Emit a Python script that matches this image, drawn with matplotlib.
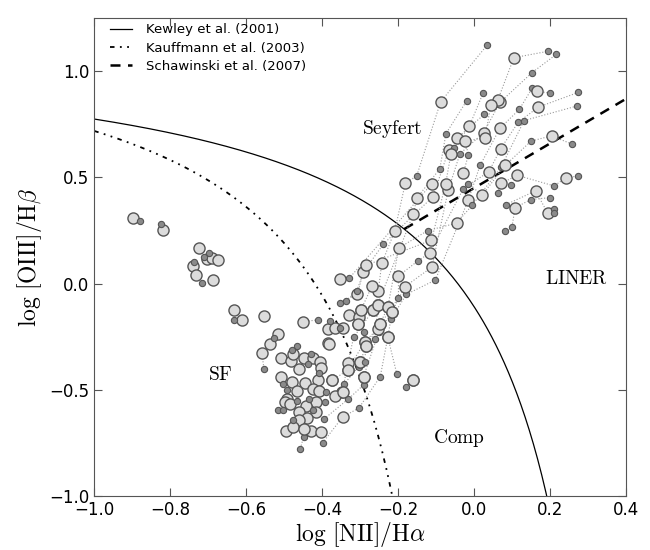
import numpy as np
import matplotlib
matplotlib.use("Agg")
import matplotlib.pyplot as plt

plt.rcParams['mathtext.fontset'] = 'cm'
plt.rcParams['xtick.direction'] = 'in'
plt.rcParams['ytick.direction'] = 'in'
plt.rcParams['xtick.top'] = True
plt.rcParams['ytick.right'] = True

# galaxy tracks: log NII/Ha, log OIII/Hb, and marker kind per point (B = big, s = small)
track_x = [
    [-0.399, -0.346, -0.303, -0.247, -0.227, -0.219, -0.178, -0.102, -0.015, 0.016, 0.068, 0.119, 0.153, 0.165, 0.200],
    [-0.395, -0.331, -0.291, -0.291, -0.251, -0.217, -0.182, -0.111, -0.068, -0.037, 0.025, 0.068, 0.153, 0.217],
    [-0.343, -0.303, -0.285, -0.247, -0.199, -0.199, -0.148, -0.116, -0.028, 0.039, 0.070, 0.116, 0.169, 0.275],
    [-0.374, -0.333, -0.288, -0.254, -0.227, -0.198, -0.122, -0.046, -0.005, 0.071, 0.132, 0.272],
    [-0.347, -0.332, -0.317, -0.265, -0.252, -0.243, -0.209, -0.181, -0.151, -0.088, 0.034],
    [-0.300, -0.260, -0.254, -0.160, -0.151, -0.090, -0.074, -0.019],
    [-0.353, -0.307, -0.292, -0.239, -0.108, -0.067, -0.052, -0.012, 0.024],
    [-0.337, -0.309, -0.285, -0.112, -0.075, -0.061, -0.046, 0.027, 0.063, 0.105, 0.195],
    [-0.203, -0.227],
    [-0.178, -0.162],
    [-0.015, 0.022, 0.082, 0.150, 0.204, 0.258],
    [0.062, 0.072, 0.114, 0.211, 0.241, 0.275],
    [0.081, 0.100, 0.108, 0.149, 0.200],
    [0.084, 0.162, 0.194, 0.210, 0.211],
    [-0.028, -0.015, -0.023, 0.029, 0.044],
    [-0.306, -0.298, -0.268],
    [-0.354, -0.328, -0.111],
    [-0.451, -0.412],
    [-0.457, -0.449, -0.430],
    [-0.559, -0.553],
    [-0.897, -0.879],
    [-0.818, -0.824],
]
track_y = [
    [-0.750, -0.628, -0.585, -0.438, -0.252, -0.167, -0.050, 0.017, 0.394, 0.557, 0.731, 0.820, 0.920, 0.905, 0.898],
    [-0.637, -0.543, -0.477, -0.437, -0.229, -0.135, -0.014, 0.078, 0.440, 0.612, 0.710, 0.853, 0.994, 1.080],
    [-0.474, -0.390, -0.292, -0.192, -0.066, 0.036, 0.107, 0.146, 0.448, 0.527, 0.635, 0.759, 0.831, 0.901],
    [-0.455, -0.408, -0.274, -0.213, -0.111, 0.168, 0.250, 0.285, 0.369, 0.548, 0.768, 0.837],
    [-0.512, -0.372, -0.252, -0.124, -0.033, 0.095, 0.247, 0.473, 0.507, 0.856, 1.122],
    [-0.371, -0.261, -0.099, 0.327, 0.402, 0.541, 0.706, 0.862],
    [-0.089, -0.050, 0.053, 0.186, 0.410, 0.628, 0.640, 0.743, 0.898],
    [-0.080, -0.036, 0.086, 0.205, 0.468, 0.609, 0.684, 0.797, 0.867, 1.064, 1.094],
    [-0.427, -0.252],
    [-0.487, -0.455],
    [0.468, 0.418, 0.557, 0.671, 0.696, 0.657],
    [0.427, 0.473, 0.510, 0.460, 0.498, 0.507],
    [0.246, 0.268, 0.357, 0.396, 0.405],
    [0.372, 0.437, 0.332, 0.351, 0.333],
    [0.521, 0.606, 0.671, 0.687, 0.840],
    [-0.189, -0.124, -0.009],
    [0.020, 0.027, 0.471],
    [-0.180, -0.170],
    [-0.776, -0.721, -0.695],
    [-0.324, -0.401],
    [0.310, 0.296],
    [0.254, 0.282],
]
track_kind = [
    "sBssBsssBsBssBs",
    "sssBsBBBBsBBss",
    "ssBBsBsBsBBsBs",
    "BBBBBBsBssss",
    "BBsBBBBBsBs",
    "BsBBBsss",
    "sBBsBBsBs",
    "ssBBBBBsBBs",
    "sB",
    "sB",
    "sBBsBs",
    "sBBsBs",
    "ssBss",
    "sBBss",
    "BsBBB",
    "BBB",
    "BsB",
    "Bs",
    "ssB",
    "Bs",
    "Bs",
    "Bs",
]

# points without a connecting track
lone_big_x = [-0.724, -0.702, -0.691, -0.675, -0.739, -0.731, -0.688, -0.632, -0.612, -0.554,
              -0.516, -0.538, -0.508, -0.482, -0.476, -0.447, -0.425, -0.405, -0.461, -0.403,
              -0.508, -0.480, -0.446, -0.411, -0.425, -0.409, -0.465, -0.366, -0.492, -0.416,
              -0.443, -0.497, -0.484, -0.462, -0.416, -0.440, -0.462, -0.495, -0.476, -0.449,
              -0.403, -0.384, -0.330, -0.303, -0.384, -0.367, -0.344, -0.382, -0.298, -0.265,
              -0.254, -0.227, -0.217, -0.247, -0.288, -0.285, -0.332, -0.300, -0.291, -0.162,
              -0.374, -0.346, -0.306]
lone_big_y = [0.168, 0.116, 0.119, 0.113, 0.085, 0.039, 0.017, -0.125, -0.172, -0.152,
              -0.239, -0.285, -0.351, -0.366, -0.330, -0.351, -0.351, -0.369, -0.401, -0.398,
              -0.437, -0.463, -0.468, -0.452, -0.498, -0.506, -0.506, -0.531, -0.543, -0.559,
              -0.577, -0.557, -0.565, -0.606, -0.602, -0.631, -0.640, -0.693, -0.677, -0.684,
              -0.696, -0.280, -0.149, -0.155, -0.215, -0.211, -0.208, -0.283, -0.124, -0.124,
              -0.099, -0.111, -0.135, -0.192, -0.274, -0.292, -0.408, -0.371, -0.437, -0.455,
              -0.455, -0.512, -0.189]
lone_small_x = [-0.697, -0.710, -0.738, -0.715, -0.633, -0.528, -0.465, -0.480, -0.430, -0.437,
                -0.409, -0.503, -0.492, -0.389, -0.467, -0.434, -0.392, -0.516, -0.502, -0.425,
                -0.476, -0.289, -0.353, -0.379, -0.287, 0.097]
lone_small_y = [0.144, 0.124, 0.100, 0.005, -0.169, -0.255, -0.293, -0.311, -0.330, -0.380,
                -0.421, -0.474, -0.502, -0.510, -0.553, -0.543, -0.559, -0.593, -0.593, -0.596,
                -0.643, -0.227, -0.208, -0.177, -0.368, 0.466]

big_style = dict(marker='o', markersize=8, markerfacecolor='#dcdcdc',
                 markeredgecolor='#555555', markeredgewidth=1.0, linestyle='none')
small_style = dict(marker='o', markersize=4.5, markerfacecolor='#8a8a8a',
                   markeredgecolor='#555555', markeredgewidth=0.8, linestyle='none')

fig = plt.figure(figsize=(6.5, 5.5), dpi=100)
ax = fig.add_axes([0.145, 0.098, 0.818, 0.869])

# demarcation lines
xk = np.linspace(-1.0, 0.46, 400)
yk = 0.61 / (xk - 0.47) + 1.19
ax.plot(xk, yk, color='k', lw=0.9, label='Kewley et al. (2001)')
xf = np.linspace(-1.0, 0.04, 400)
yf = 0.61 / (xf - 0.05) + 1.3
ax.plot(xf, yf, color='k', lw=1.3, dashes=(2.5, 3, 1, 3, 1, 3), label='Kauffmann et al. (2003)')
xs = np.linspace(-0.6, 0.4, 2000)
ks = 0.61 / (xs - 0.47) + 1.19
x0 = xs[np.argmin(np.abs(1.05 * xs + 0.45 - ks))]
xsl = np.array([x0, 0.4])
ax.plot(xsl, 1.05 * xsl + 0.45, color='k', lw=1.8, dashes=(4, 3), label='Schawinski et al. (2007)')

# connecting tracks
for tx, ty in zip(track_x, track_y):
    if len(tx) > 1:
        ax.plot(tx, ty, color='#9a9a9a', lw=0.8, linestyle=':', zorder=2)

# markers
for tx, ty, kind in zip(track_x, track_y, track_kind):
    for x, y, k in zip(tx, ty, kind):
        if k == 'B':
            ax.plot(x, y, zorder=3, **big_style)
        else:
            ax.plot(x, y, zorder=3, **small_style)
ax.plot(lone_big_x, lone_big_y, zorder=3, **big_style)
ax.plot(lone_small_x, lone_small_y, zorder=3, **small_style)

ax.text(-0.216, 0.728, r'$\mathrm{Seyfert}$', fontsize=14, ha='center', va='center')
ax.text(0.271, 0.023, r'$\mathrm{LINER}$', fontsize=14, ha='center', va='center')
ax.text(-0.668, -0.427, r'$\mathrm{SF}$', fontsize=14, ha='center', va='center')
ax.text(-0.04, -0.728, r'$\mathrm{Comp}$', fontsize=14, ha='center', va='center')

ax.set_xlim(-1.0, 0.4)
ax.set_ylim(-1.0, 1.25)
ax.set_xticks(np.arange(-1.0, 0.41, 0.2))
ax.set_yticks([-1.0, -0.5, 0.0, 0.5, 1.0])
ax.tick_params(labelsize=12, length=6, width=0.8, color='#555555')
for sp in ax.spines.values():
    sp.set_color('#555555')
ax.set_xlabel(r'$\log\,[\mathrm{NII}]/\mathrm{H}\alpha$', fontsize=17, labelpad=1)
ax.set_ylabel(r'$\log\,[\mathrm{OIII}]/\mathrm{H}\beta$', fontsize=17)
ax.legend(loc='upper left', bbox_to_anchor=(0.028, 0.992), frameon=False, fontsize=9.5,
          handlelength=1.6, handletextpad=1.1, labelspacing=0.4,
          borderaxespad=0.0, borderpad=0.1)

fig.savefig('out.png', dpi=100)
